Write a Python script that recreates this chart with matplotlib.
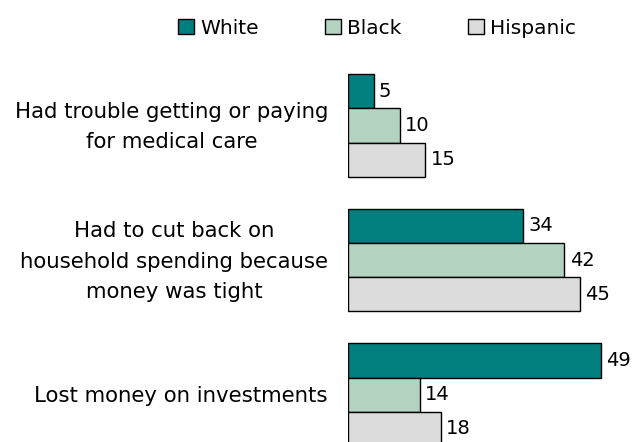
import numpy as np
import matplotlib
matplotlib.use("Agg")
import matplotlib.pyplot as plt
from matplotlib.patches import Patch

categories = ["Had trouble getting or paying\nfor medical care",
              "Had to cut back on\nhousehold spending because\nmoney was tight",
              "Lost money on investments"]
series = ["White", "Black", "Hispanic"]
white = [5, 34, 49]
black = [10, 42, 14]
hispanic = [15, 45, 18]
colors = ["#007f7f", "#b3d3c0", "#dcdcdc"]

plt.rcParams['font.family'] = ['DejaVu Sans']

fig = plt.figure(figsize=(6.34, 4.42), dpi=100)
ax = fig.add_axes([348 / 634, 0, 1 - 348 / 634, 1])

h = 0.253
y = np.arange(len(categories))
for i, (vals, c) in enumerate(zip([white, black, hispanic], colors)):
    pos = y + (i - 1) * h
    ax.barh(pos, vals, height=h, color=c, edgecolor="black", linewidth=1)
    for p, v in zip(pos, vals):
        ax.text(v + 1.0, p, str(v), va="center", ha="left", fontsize=14)

ax.set_xlim(0, 55.5)
ax.set_ylim(2.353, -0.933)
ax.axis("off")

for yi, lab in zip(y, categories):
    fig.text(328 / 634, 1 - (127 + yi * 134.5) / 442, lab, ha="right", va="center",
             multialignment="center", fontsize=15.3, linespacing=1.68)

# legend across the top
handles = [Patch(facecolor=c, edgecolor="black", linewidth=1) for c in colors]
fig.legend(handles, series, loc="center", bbox_to_anchor=(377 / 634, 1 - 28 / 442),
           ncol=3, frameon=False, fontsize=14.5, handlelength=0.8, handleheight=0.8,
           handletextpad=0.3, columnspacing=3.3)

fig.savefig("out.png", dpi=100)
